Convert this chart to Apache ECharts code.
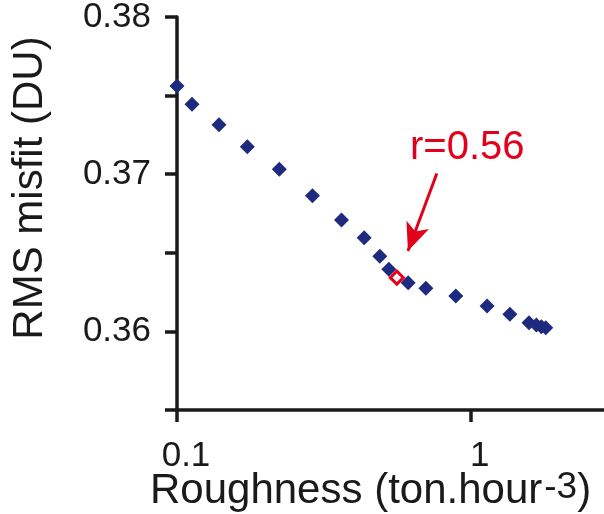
<!DOCTYPE html>
<html>
<head>
<meta charset="utf-8">
<script src="https://cdn.jsdelivr.net/npm/echarts@6/dist/echarts.min.js"></script>
<style>html,body{margin:0;padding:0;background:#fff}#c{width:604px;height:514px}</style>
</head>
<body>
<div id="c"></div>
<script>
// Roughness (x, log scale) and RMS misfit (y)
const roughness = [0.100, 0.1125, 0.139, 0.1735, 0.223, 0.289, 0.363, 0.4335, 0.490, 0.526,
                   0.612, 0.703, 0.889, 1.136, 1.358, 1.578, 1.672, 1.738, 1.799];
const misfit    = [0.37561, 0.37445, 0.37315, 0.37175, 0.37031, 0.36863, 0.36709, 0.36596, 0.36478, 0.36395,
                   0.36310, 0.36274, 0.36225, 0.36162, 0.36109, 0.36055, 0.36041, 0.36030, 0.36023];
// highlighted point
const selRoughness = [0.56];
const selMisfit = [0.36342];
// annotation arrow (start, end) in data coords
const arrowX = [0.766, 0.611];
const arrowY = [0.37005, 0.36511];
const annotationText = 'r=0.56';
const xTitle = 'Roughness (ton.hour';
const xTitleSup = '-3';
const yTitle = 'RMS misfit (DU)';

const FONT = 'Liberation Sans, Arial, Helvetica, sans-serif';
const AX = '#1a1a1a';
const BLUE = '#1e2a7e';
const RED = '#e2001a';

const chart = echarts.init(document.getElementById('c'), null, {renderer: 'canvas'});
chart.setOption({
  animation: false,
  backgroundColor: '#fff',
  grid: {left: 177, top: 17, width: 434, height: 393, containLabel: false, outerBoundsMode: 'none'},
  xAxis: {
    type: 'log', logBase: 10, min: 0.1, max: 3,
    axisLine: {show: true, lineStyle: {color: AX, width: 3.5}},
    axisTick: {show: true, length: 12, lineStyle: {color: AX, width: 3.5}},
    axisLabel: {show: true, showMaxLabel: false, margin: 29, color: AX, fontSize: 35, fontFamily: FONT,
                padding: [0, 0, 0, 18]},
    splitLine: {show: false}, minorTick: {show: false}
  },
  yAxis: {
    type: 'value', min: 0.355, max: 0.38, interval: 0.005,
    axisLine: {show: true, lineStyle: {color: AX, width: 3.5}},
    axisTick: {show: true, length: 12, lineStyle: {color: AX, width: 3.5}},
    axisLabel: {
      show: true, margin: 26, color: AX, fontSize: 35, fontFamily: FONT,
      formatter: v => (Math.abs(v * 100 - Math.round(v * 100)) < 1e-6) ? v.toFixed(2) : ''
    },
    splitLine: {show: false}
  },
  graphic: [
    {type: 'text', x: 30, y: 188, rotation: Math.PI / 2,
     style: {text: yTitle, fontSize: 42, fontFamily: FONT, fill: AX, align: 'center', verticalAlign: 'middle'}},
    {type: 'text', x: 150, y: 491,
     style: {text: '{a|' + xTitle + '}{s|' + xTitleSup + '}{a|)}', fill: AX, align: 'left', verticalAlign: 'middle',
       rich: {a: {fontSize: 42, fontFamily: FONT, fill: AX, lineHeight: 44, verticalAlign: 'middle'},
              s: {fontSize: 37, fontFamily: FONT, fill: AX, lineHeight: 34, verticalAlign: 'top', padding: [0, 0, 6, 2]}}}},
    {type: 'text', x: 410, y: 148,
     style: {text: annotationText, fontSize: 40, fontFamily: FONT, fill: RED, align: 'left', verticalAlign: 'middle'}}
  ],
  series: [
    {
      type: 'scatter', symbol: 'diamond', symbolSize: 15,
      itemStyle: {color: BLUE, opacity: 1},
      data: roughness.map((x, i) => [x, misfit[i]]),
      z: 2
    },
    {
      type: 'scatter', symbol: 'diamond', symbolSize: 13,
      itemStyle: {color: '#fff', borderColor: RED, borderWidth: 3, opacity: 1},
      data: selRoughness.map((x, i) => [x, selMisfit[i]]),
      z: 3,
      markLine: {
        silent: true, animation: false,
        symbol: ['none', 'arrow'], symbolSize: [18, 28],
        label: {show: false},
        lineStyle: {color: RED, width: 3, type: 'solid'},
        data: [[{coord: [arrowX[0], arrowY[0]]}, {coord: [arrowX[1], arrowY[1]]}]]
      }
    }
  ]
});
</script>
</body>
</html>
